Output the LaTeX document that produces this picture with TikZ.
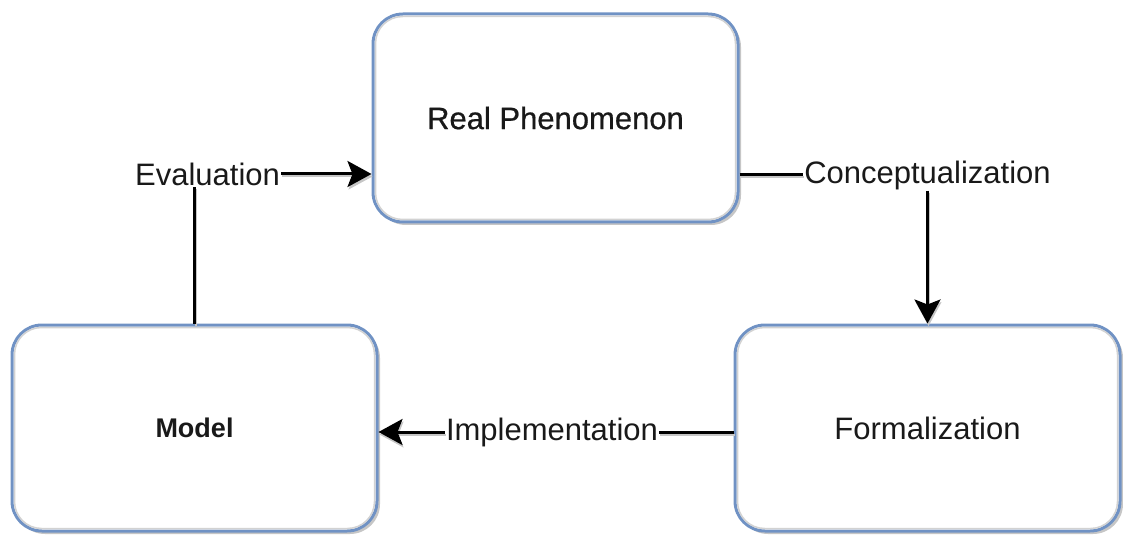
\documentclass[tikz,border=0pt]{standalone}
\usepackage{fontspec}
\setmainfont{Liberation Sans}
\usetikzlibrary{arrows.meta,shadows}
\definecolor{boxblue}{RGB}{112,146,196}
\definecolor{txt}{RGB}{25,25,25}
\begin{document}
\begin{tikzpicture}[x=1pt,y=-1pt,
  stagebox/.style={draw=boxblue,line width=3pt,rounded corners=30pt,fill=white,
    drop shadow={shadow xshift=3pt,shadow yshift=-3pt,fill=gray,opacity=0.45},
    font=\fontsize{31}{36}\selectfont,text=txt,inner sep=0pt},
  stagelabel/.style={font=\fontsize{31}{36}\selectfont,text=txt,inner sep=1pt},
  conn/.style={line width=3pt,black,
    preaction={draw=gray!45,line width=2pt,transform canvas={shift={(1pt,-2.5pt)}}}},
  tip/.style={-{Stealth[length=24pt,width=26pt,inset=5pt]}}
]
\useasboundingbox (0,0) rectangle (1123,537);
\node[stagebox,minimum width=365pt,minimum height=208pt,font=\fontsize{31}{36}\selectfont\addfontfeature{FakeBold=0.6}] (rp) at (555.5,118) {Real Phenomenon};
\node[stagebox,minimum width=365pt,minimum height=206pt,font=\fontsize{27}{32}\selectfont\bfseries] (model) at (194.5,428) {Model};
\node[stagebox,minimum width=385pt,minimum height=206pt] (form) at (927.5,428) {Formalization};
\foreach \b in {rp,model,form}{
  \draw[gray!35,line width=1.5pt,rounded corners=27pt]
    ([shift={(4pt,-4pt)}]\b.north west) rectangle ([shift={(-4pt,4pt)}]\b.south east);
}
\node[stagelabel] (eval) at (207.5,174) {Evaluation};
\node[stagelabel] (concept) at (927.5,175) {Conceptualization};
\node[stagelabel] (impl) at (552,432) {Implementation};
\draw[conn] (model.north) -- (model.north |- eval.south);
\draw[conn,tip] (eval.east) -- (rp.west |- eval.east);
\draw[conn] (rp.east |- concept.west) -- (concept.west);
\draw[conn,tip] (concept.south -| form.north) -- (form.north);
\draw[conn] (form.west |- impl.east) -- (impl.east);
\draw[conn,tip] (impl.west) -- (model.east |- impl.west);
\end{tikzpicture}
\end{document}
